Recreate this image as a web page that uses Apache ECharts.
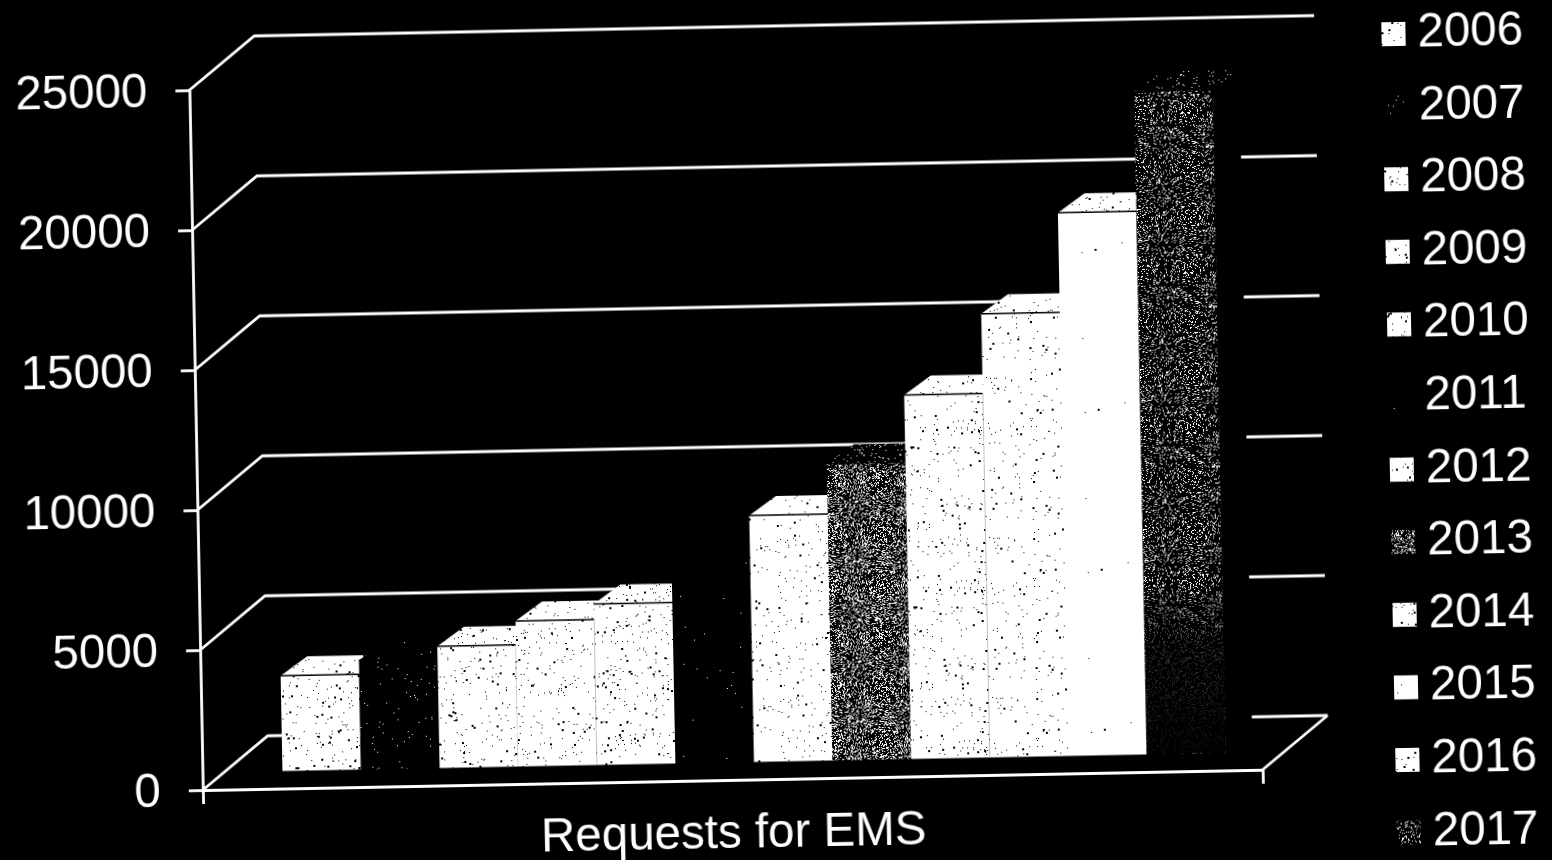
<!DOCTYPE html>
<html><head><meta charset="utf-8">
<style>
html,body{margin:0;padding:0;background:#000;overflow:hidden;width:1552px;height:860px}
#c{width:1552px;height:900px;transform:rotate(-1.1deg);transform-origin:776px 430px}
</style>
<script src="https://cdn.jsdelivr.net/npm/echarts@6/dist/echarts.min.js"></script>
</head><body><div id="c"></div>
<script>
var categories = ['Requests for EMS'];
var years = ['2006','2007','2008','2009','2010','2011','2012','2013','2014','2015','2016','2017'];
var requests = [3400,3900,4350,5200,5750,7000,8800,10600,13000,15850,19400,23700];
var yTicks = [0,5000,10000,15000,20000,25000];
// dither of each year: share of light pixels on the legend key, the bar top and the bar front
var keyShare = [0.94,0.012,0.94,0.94,0.94,0.002,0.95,0.3,0.95,0.995,0.95,0.16];
var topShare = [0.94,0.003,0.94,0.94,0.94,0.001,0.95,0.04,0.95,0.96,0.95,0.03];
var faceShare = [0.95,0.006,0.95,0.95,0.95,0.001,0.96,0.3,0.96,0.97,0.999,0.16];

var DEPTH_X=66, DEPTH_Y=-53, BAR_DX=27, BAR_DY=-19, BASE_Y=-17.5, BAR_START=80, BAR_W=78.6;

function hash(x,y,s){var v=Math.sin(x*127.1+y*311.7+s*74.7)*43758.5453;return v-Math.floor(v);}
function texture(share,seed){
  var n=160,cv=document.createElement('canvas');cv.width=cv.height=n;
  var g=cv.getContext('2d'),light=share>0.5;
  g.fillStyle=light?'#fff':'#000';g.fillRect(0,0,n,n);
  var sp=light?(1-share)*0.35:share;
  g.fillStyle=light?'#000':'#fff';
  for(var y=0;y<n;y++)for(var x=0;x<n;x++){
    if(hash(x,y,seed)<sp){var big=light&&hash(y,x,seed)<0.2;g.fillRect(x,y,big?2:1,big?2:1);}
  }
  return cv;
}
var faces=faceShare.map(function(s,i){return texture(s,i+20);});
var tops=topShare.map(function(s,i){return texture(s,i+40);});
var chart=echarts.init(document.getElementById('c'),null,{renderer:'canvas'});

function frameItem(params,api){
  var val=api.value(1),o=api.coord([0,val]),band=api.size([1,0])[0];
  var left=o[0]-band/2,y=o[1],line={stroke:'#fff',lineWidth:2.8};
  return {type:'group',children:[
    {type:'polyline',shape:{points:[[left,y],[left+DEPTH_X,y+DEPTH_Y],[left+band+DEPTH_X,y+DEPTH_Y]]},style:Object.assign({fill:null},line)},
    val===0?{type:'line',shape:{x1:left+band,y1:y,x2:left+band+DEPTH_X,y2:y+DEPTH_Y},style:line}:{type:'group',children:[]}
  ]};
}
function barItem(idx){return function(params,api){
  var c=api.coord([0,api.value(1)]),z=api.coord([0,0]),band=api.size([1,0])[0];
  var x=c[0]-band/2+BAR_START+idx*BAR_W,w=BAR_W,top=c[1]+BASE_Y,bot=z[1]+BASE_Y;
  var kids=[
    {type:'polygon',shape:{points:[[x+w,top],[x+w+BAR_DX,top+BAR_DY],[x+w+BAR_DX,bot+BAR_DY],[x+w,bot]]},style:{fill:'#000'}},
    {type:'polygon',shape:{points:[[x,top],[x+BAR_DX,top+BAR_DY],[x+w+BAR_DX,top+BAR_DY],[x+w,top]]},style:{fill:{image:tops[idx],repeat:'repeat'}}},
    {type:'rect',shape:{x:x,y:top,width:w,height:bot-top},style:{fill:{image:faces[idx],repeat:'repeat'}}},
    {type:'line',shape:{x1:x,y1:top,x2:x+w,y2:top},style:{stroke:'#000',lineWidth:1.5}}
  ];
  if(idx===years.length-1){ // the last bar's dither fades to black toward the floor
    kids.push({type:'rect',shape:{x:x,y:bot-170,width:w,height:170},style:{fill:new echarts.graphic.LinearGradient(0,0,0,1,[{offset:0,color:'rgba(0,0,0,0)'},{offset:0.35,color:'rgba(0,0,0,0.75)'},{offset:1,color:'rgba(0,0,0,0.95)'}])}});
  }
  return {type:'group',children:kids};
};}
var series=[{type:'custom',name:'frame',silent:true,renderItem:frameItem,clip:false,
  data:yTicks.map(function(v){return [0,v];}),encode:{x:0,y:1},z:1}];
years.forEach(function(y,i){
  series.push({type:'custom',name:y,renderItem:barItem(i),clip:false,z:2+i,
    itemStyle:{color:{image:texture(keyShare[i],i+1),repeat:'repeat'}},
    data:[[0,requests[i]]],encode:{x:0,y:1}});
});
chart.setOption({
  animation:false,backgroundColor:'#000',
  grid:{left:196,right:296,top:79,bottom:121,containLabel:false},
  legend:{data:years,orient:'vertical',left:1384,top:17,height:880,itemWidth:24,itemHeight:24,itemGap:24.6,icon:'rect',
    selectedMode:false,textStyle:{color:'#fff',fontFamily:'Liberation Sans',fontSize:47.5,padding:[0,0,0,7]}},
  xAxis:{type:'category',data:categories,boundaryGap:true,
    axisLine:{show:true,lineStyle:{color:'#fff',width:2.8}},
    axisTick:{show:true,alignWithLabel:false,length:14,lineStyle:{color:'#fff',width:2.8}},
    axisLabel:{color:'#fff',fontFamily:'Liberation Sans',fontSize:47.5,margin:31}},
  yAxis:{type:'value',min:0,max:25000,interval:5000,
    splitLine:{show:false},
    axisLine:{show:true,lineStyle:{color:'#fff',width:2.8}},
    axisTick:{show:true,length:14,lineStyle:{color:'#fff',width:2.8}},
    axisLabel:{color:'#fff',fontFamily:'Liberation Sans',fontSize:47.5,margin:42,verticalAlign:'top',lineHeight:6,
      formatter:function(v){return String(v);}}},
  series:series
});
</script></body></html>
